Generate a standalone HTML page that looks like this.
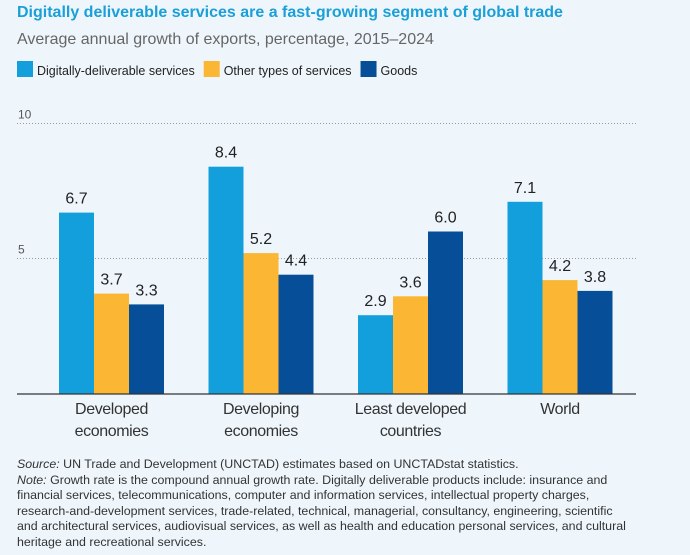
<!DOCTYPE html>
<html><head><meta charset="utf-8"><style>
body{margin:0;width:690px;height:555px;background:#eef6fc;overflow:hidden;font-family:"Liberation Sans",sans-serif;}
.t{position:absolute;left:17px;top:4px;font:bold 16px "Liberation Sans",sans-serif;color:#1a9fd8;white-space:nowrap}
.s{position:absolute;left:17px;top:31px;font:16px "Liberation Sans",sans-serif;color:#666;white-space:nowrap}
.n{position:absolute;left:17px;top:457px;font-size:12.4px;line-height:15.6px;color:#333;white-space:nowrap}
</style></head><body>
<div class="t">Digitally deliverable services are a fast-growing segment of global trade</div>
<div class="s">Average annual growth of exports, percentage, 2015–2024</div>
<svg id="c" width="690" height="455" style="position:absolute;left:0;top:0"></svg>
<div class="n"><i>Source:</i> UN Trade and Development (UNCTAD) estimates based on UNCTADstat statistics.<br><i>Note:</i> Growth rate is the compound annual growth rate. Digitally deliverable products include: insurance and<br>financial services, telecommunications, computer and information services, intellectual property charges,<br>research-and-development services, trade-related, technical, managerial, consultancy, engineering, scientific<br>and architectural services, audiovisual services, as well as health and education personal services, and cultural<br>heritage and recreational services.</div>
<script>
const categories=[["Developed","economies"],["Developing","economies"],["Least developed","countries"],["World"]];
const seriesNames=["Digitally-deliverable services","Other types of services","Goods"];
const digital=[6.7,8.4,2.9,7.1];
const other=[3.7,5.2,3.6,4.2];
const goods=[3.3,4.4,6.0,3.8];
const ticks=[5,10];
const colors=["#139fdb","#fbb634","#064f98"];
const series=[digital,other,goods];
const svg=document.getElementById('c');const NS='http://www.w3.org/2000/svg';
const base=393.5,unit=27;
const y=v=>base-v*unit;
const gx=i=>59+i*149.5;
function mk(t,a,txt){const e=document.createElementNS(NS,t);for(const k in a)e.setAttribute(k,a[k]);if(txt!=null)e.textContent=txt;svg.appendChild(e);return e;}
let lx=17;
seriesNames.forEach((s,i)=>{
 const r=mk('rect',{x:lx,y:61,width:16,height:16,fill:colors[i]});
 
 
 const t=mk('text',{x:lx+20,y:75,'font-size':12.5,fill:'#222'},s);
 
 
 lx+=20+t.getComputedTextLength()+9;
});
ticks.forEach(v=>{
 const l=mk('line',{x1:17,x2:636,y1:y(v),y2:y(v),stroke:'#999','stroke-dasharray':'1 2'});
 
 
 const t=mk('text',{x:18,y:y(v)-5,'font-size':12,fill:'#555'},String(v));
 
 
});
categories.forEach((c,i)=>{
 series.forEach((s,j)=>{
  const x=gx(i)+j*35;
  const r=mk('rect',{x:x,y:y(s[i]),width:35,height:s[i]*unit,fill:colors[j]});
  
  
  const t=mk('text',{x:x+17.5,y:y(s[i])-9,'font-size':16,'text-anchor':'middle',fill:'#222'},s[i].toFixed(1));
  
  
 });
 c.forEach((line,k)=>{
  const t=mk('text',{x:gx(i)+52.5,y:414+k*22,'font-size':16,'letter-spacing':-0.4,'text-anchor':'middle',fill:'#333'},line);
  
  
 });
});
const ax=mk('line',{x1:17,x2:636,y1:base+0.5,y2:base+0.5,stroke:'#333','stroke-width':1.2});


</script>
</body></html>
